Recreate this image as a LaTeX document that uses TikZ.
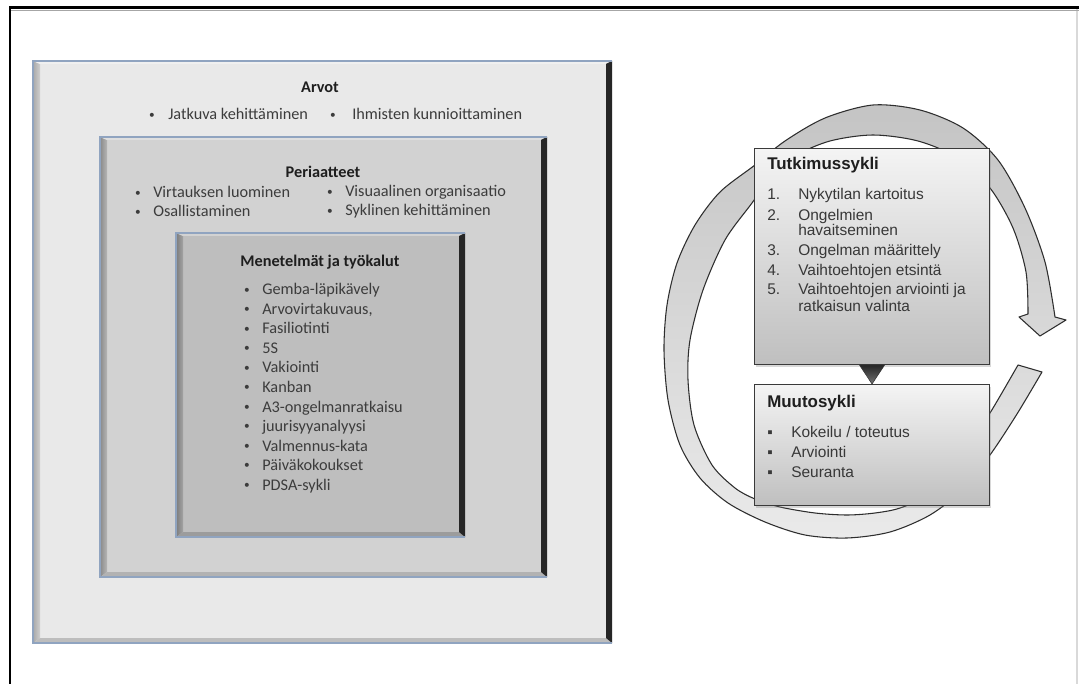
\documentclass[tikz,border=0pt]{standalone}
\usepackage{fontspec}
\setmainfont{Carlito}
\newfontfamily\arialfont{Liberation Sans}
\usetikzlibrary{shadows}

\definecolor{frameblue}{HTML}{90A4C0}
\definecolor{bevelright}{HTML}{262626}
\definecolor{outerface}{HTML}{E9E9E9}
\definecolor{outerleft}{HTML}{A9A9A9}
\definecolor{outerbottom}{HTML}{BDBDBD}
\definecolor{midface}{HTML}{D2D2D2}
\definecolor{midleft}{HTML}{8A8A8A}
\definecolor{midbottom}{HTML}{B2B2B2}
\definecolor{innerface}{HTML}{BEBEBE}
\definecolor{innerleft}{HTML}{7C7C7C}
\definecolor{innerbottom}{HTML}{9C9C9C}
\definecolor{leftink}{HTML}{3C3C3C}
\definecolor{headink}{HTML}{1E1E1E}
\definecolor{rink}{HTML}{383838}
\definecolor{boxline}{HTML}{3A3A3A}
\definecolor{boxtop}{HTML}{F4F4F4}
\definecolor{boxbottom}{HTML}{BFBFBF}
\definecolor{ringtop}{HTML}{C4C4C4}
\definecolor{ringbottom}{HTML}{EAEAEA}
\definecolor{ringline}{HTML}{2E2E2E}

% bevelled panel: x0, y0, x1, y1, face, left bevel, bottom bevel
\newcommand\bevelpanel[7]{%
  \fill[#5] (#1,#2) rectangle (#3,#4);
  \shade[left color=#6, right color=#5!60!#6] (#1,#2) -- (#1+7,#2+3) -- (#1+7,#4-5) -- (#1,#4) -- cycle;
  \fill[#7] (#1,#4) -- (#1+7,#4-5) -- (#3-6,#4-5) -- (#3,#4) -- cycle;
  \fill[#5!70!white] (#1,#2) -- (#3,#2) -- (#3-6,#2+3) -- (#1+7,#2+3) -- cycle;
  \fill[bevelright] (#3,#2) -- (#3,#4) -- (#3-6,#4-5) -- (#3-6,#2+3) -- cycle;
  \draw[frameblue, line width=1pt] (#3,#2) -- (#1,#2) -- (#1,#4) -- (#3,#4);
}

\begin{document}
\begin{tikzpicture}[x=0.75pt,y=-0.75pt,
  ltext/.style={anchor=base west, inner sep=0pt, text=leftink, font=\fontsize{12.2}{14}\selectfont},
  lbul/.style={anchor=base, inner sep=0pt, text=leftink, font=\fontsize{8.5}{10}\selectfont},
  lhead/.style={anchor=base, inner sep=0pt, text=headink, font=\fontsize{12.2}{14}\selectfont\bfseries},
  rtext/.style={anchor=base west, inner sep=0pt, text=rink, font=\arialfont\fontsize{11.6}{13}\selectfont},
  rbul/.style={anchor=base, inner sep=0pt, text=rink, font=\arialfont\fontsize{11.6}{13}\selectfont},
  rhead/.style={anchor=base west, inner sep=0pt, text=headink, font=\arialfont\bfseries\fontsize{12.7}{14}\selectfont},
  cyclebox/.style={draw=boxline, line width=0.8pt, top color=boxtop, bottom color=boxbottom,
    inner sep=0pt, anchor=north west, minimum width=176.25pt,
    drop shadow={shadow xshift=1.2pt, shadow yshift=-1.5pt, opacity=0.3}},
]
\useasboundingbox (0,0) rectangle (1079,684);
\fill[white] (0,0) rectangle (1079,684);

% page frame
\draw[black!15, line width=0.8pt] (1077,9) -- (1077,684);
\draw[black!35, line width=0.8pt] (11,10.5) -- (1079,10.5);
\draw[black, line width=2pt] (9,7.5) -- (1079,7.5);
\draw[black, line width=2pt] (10,7.5) -- (10,684);

% nested panels
\bevelpanel{33}{61}{612}{643}{outerface}{outerleft}{outerbottom}
\bevelpanel{100}{137}{547}{577}{midface}{midleft}{midbottom}
\bevelpanel{176}{233}{465}{537}{innerface}{innerleft}{innerbottom}

% values
\node[lhead] (arvot) at (320,93) {Arvot};
\node[lbul] (ab1) at (152,118.5) {•};
\node[ltext] (a1) at (168,120) {Jatkuva kehittäminen};
\node[lbul] (ab2) at (333,118.5) {•};
\node[ltext] (a2) at (352,120) {Ihmisten kunnioittaminen};

% principles
\node[lhead] (periaatteet) at (323,178) {Periaatteet};
\node[lbul] (pb1) at (138,196.5) {•};
\node[ltext] (p1) at (153,198) {Virtauksen luominen};
\node[lbul] (pb2) at (138,215.5) {•};
\node[ltext] (p2) at (153,217) {Osallistaminen};
\node[lbul] (pb3) at (330,195.5) {•};
\node[ltext] (p3) at (345,197) {Visuaalinen organisaatio};
\node[lbul] (pb4) at (330,214.5) {•};
\node[ltext] (p4) at (345,216) {Syklinen kehittäminen};

% methods and tools
\node[lhead] (menetelmat) at (320,267) {Menetelmät ja työkalut};
\foreach \txt [count=\i from 0] in {Gemba-läpikävely,{Arvovirtakuvaus,},Fasiliotinti,5S,Vakiointi,Kanban,A3-ongelmanratkaisu,juurisyyanalyysi,Valmennus-kata,Päiväkokoukset,PDSA-sykli}{
  \node[lbul] (mb\i) at (247,293.5+19.5*\i) {•};
  \node[ltext] (m\i) at (262,295+19.5*\i) {\txt};
}

% circular arrow behind the cycle boxes
\draw[ringline, line width=0.8pt, line join=round, top color=ringtop, bottom color=ringbottom]
  (1042,372) -- plot[smooth] coordinates {(1042,372) (1017,414) (990,455) (962,490) (930,515) (890,532) (847,538) (805,535) (765,522) (728,503) (700,478) (680,445) (668,400) (664,350) (667,305) (677,263) (695,225) (720,192) (755,165) (785,141) (825,118) (873,105) (920,110) (963,128) (998,160) (1025,208) (1045,262) (1055,317)}
  -- (1066,320) -- (1040,336) -- (1019,317) -- (1028,314)
  -- plot[smooth] coordinates {(1028,314) (1026,272) (1013,228) (990,188) (958,158) (918,141) (873,135) (830,141) (795,156) (770,178) (752,203) (725,240) (703,290) (690,340) (688,380) (694,425) (712,465) (735,488) (755,499) (780,507) (815,513) (847,515) (875,513) (900,508) (930,494) (958,462) (990,413) (1018,365)}
  -- cycle;

% cycle boxes
\node[cyclebox, minimum height=162pt] (tbox) at (754,148) {};
\node[cyclebox, minimum height=90.75pt] (mbox) at (754,384) {};
\shade[top color=black!85, bottom color=black!55, draw=black!80, line width=0.4pt]
  (tbox.south) ++(-12.5,0) -- ++(25,0) -- (mbox.north) -- cycle;

\node[rhead] (thead) at (767,170) {Tutkimussykli};
\node[rtext] (tn1) at (767,199.5) {1.};
\node[rtext] (t1) at (798,199.5) {Nykytilan kartoitus};
\node[rtext] (tn2) at (767,220.5) {2.};
\node[rtext] (t2) at (798,220.5) {Ongelmien};
\node[rtext] (t2b) at (798,235.5) {havaitseminen};
\node[rtext] (tn3) at (767,256) {3.};
\node[rtext] (t3) at (798,256) {Ongelman määrittely};
\node[rtext] (tn4) at (767,275.5) {4.};
\node[rtext] (t4) at (798,275.5) {Vaihtoehtojen etsintä};
\node[rtext] (tn5) at (767,295) {5.};
\node[rtext] (t5) at (798,295) {Vaihtoehtojen arviointi ja};
\node[rtext] (t5b) at (798,311.5) {ratkaisun valinta};

\node[rhead] (mhead) at (767,408) {Muutosykli};
\node[rbul] (mu1b) at (770,437) {▪};
\node[rtext] (mu1) at (791,437) {Kokeilu / toteutus};
\node[rbul] (mu2b) at (770,457.5) {▪};
\node[rtext] (mu2) at (791,457.5) {Arviointi};
\node[rbul] (mu3b) at (770,477) {▪};
\node[rtext] (mu3) at (791,477) {Seuranta};
\end{tikzpicture}
\end{document}
